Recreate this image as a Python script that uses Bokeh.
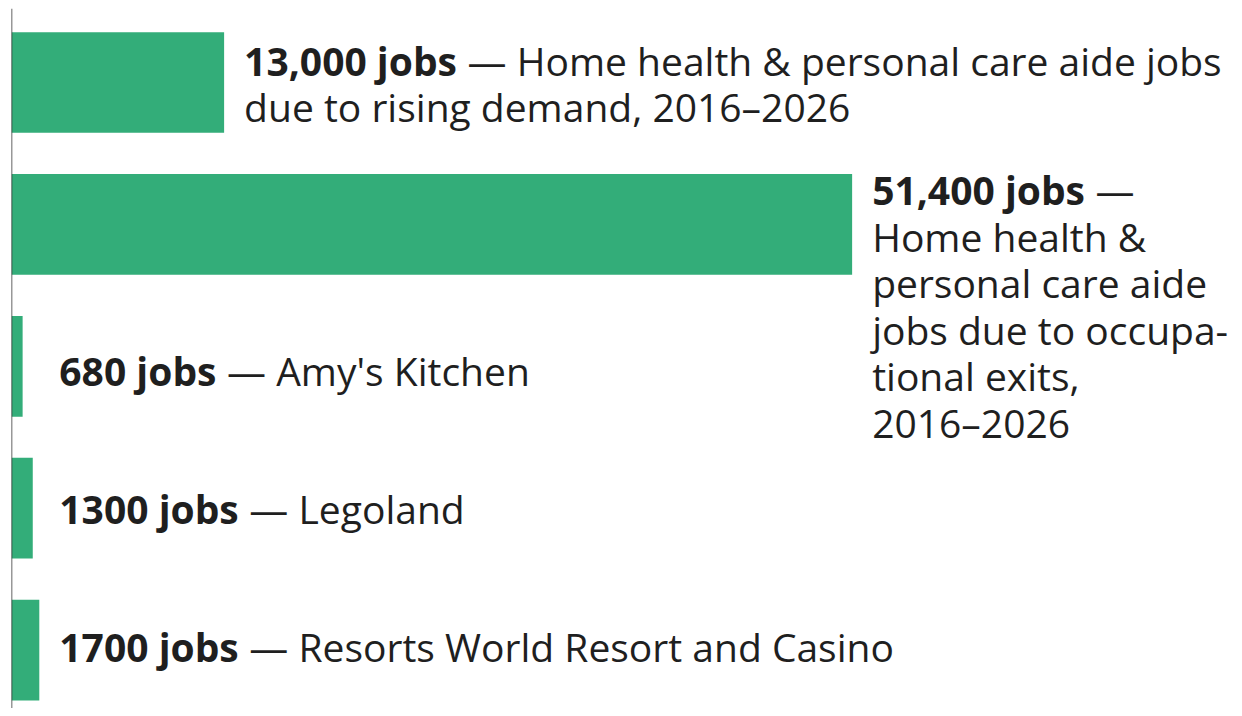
from bokeh.plotting import figure
from bokeh.models import Range1d, Span, ColumnDataSource
from bokeh.embed import file_html
from bokeh.resources import INLINE
from bokeh.core.properties import value

# ---- data ----
values = [13000, 51400, 680, 1300, 1700]
amounts = ["13,000 jobs", "51,400 jobs", "680 jobs", "1300 jobs", "1700 jobs"]
descriptions = [
    "— Home health & personal care aide jobs\ndue to rising demand, 2016–2026",
    "—\nHome health &\npersonal care aide\njobs due to occupa-\ntional exits,\n2016–2026",
    "— Amy's Kitchen",
    "— Legoland",
    "— Resorts World Resort and Casino",
]

# ---- style ----
FONT = "Open Sans"
FS = 39
LINE_H = 46.5
GREEN = "#33AD79"
TEXT_C = "#1f1f1f"
W, H = 1234, 708
BORDER_L = 11
BORDER_T = 8
FRAME_H = H - BORDER_T
X_END = 74780
BAR_H = 0.71
Y_START, Y_END = 4.4116, -0.5215
MIN_LABEL_X = 1700
LABEL_GAP = 20
Y_NUDGE = [1, -1, 4, 0, -4]

px_per_row = FRAME_H / (Y_START - Y_END)
bar_half_px = BAR_H * px_per_row / 2

# approximate Open Sans Bold advance widths (em)
BW = {"0": .572, "1": .572, "2": .572, "3": .572, "4": .572, "5": .572, "6": .572,
      "7": .572, "8": .572, "9": .572, ",": .285, " ": .26, "j": .305, "o": .619,
      "b": .635, "s": .51}


def bold_width(s):
    return sum(BW.get(c, .58) for c in s) * FS


ys = list(range(len(values)))
bar_src = ColumnDataSource(dict(y=ys, v=values))

b = dict(x=[], y=[], t=[], xo=[], yo=[])
r = dict(x=[], y=[], t=[], xo=[], yo=[])
for i, (v, a, d) in enumerate(zip(values, amounts, descriptions)):
    lines = d.split("\n")
    n = len(lines)
    lx = max(v, MIN_LABEL_X)
    if n * LINE_H > 2 * bar_half_px:
        first = -bar_half_px + 16.5
    else:
        first = -(n - 1) / 2 * LINE_H
    first += Y_NUDGE[i]
    b["x"].append(lx); b["y"].append(i); b["t"].append(a)
    b["xo"].append(LABEL_GAP); b["yo"].append(first)
    for k, ln in enumerate(lines):
        r["x"].append(lx); r["y"].append(i); r["t"].append(ln)
        xo = LABEL_GAP + (bold_width(a) + 10 if k == 0 else 0)
        r["xo"].append(xo); r["yo"].append(first + k * LINE_H)

p = figure(width=W, height=H, output_backend="svg", toolbar_location=None,
           x_range=Range1d(0, X_END), y_range=Range1d(Y_START, Y_END),
           x_axis_type=None, y_axis_type=None,
           min_border_left=BORDER_L, min_border_right=0,
           min_border_top=BORDER_T, min_border_bottom=0)
p.outline_line_color = None
p.background_fill_color = "white"
p.border_fill_color = "white"

p.hbar(y="y", right="v", left=0, height=BAR_H, source=bar_src,
       fill_color=GREEN, line_color=None)

p.add_layout(Span(location=0, dimension="height", line_color="#333333",
                  line_width=1.5))

p.text(x="x", y="y", text="t", x_offset="xo", y_offset="yo",
       source=ColumnDataSource(b), text_font=value(FONT), text_font_style="bold",
       text_font_size=f"{FS}px", text_color=TEXT_C, text_baseline="middle",
       text_align="left")
p.text(x="x", y="y", text="t", x_offset="xo", y_offset="yo",
       source=ColumnDataSource(r), text_font=value(FONT), text_font_style="normal",
       text_font_size=f"{FS}px", text_color=TEXT_C, text_baseline="middle",
       text_align="left")

open("out.html", "w").write(file_html(p, INLINE))
